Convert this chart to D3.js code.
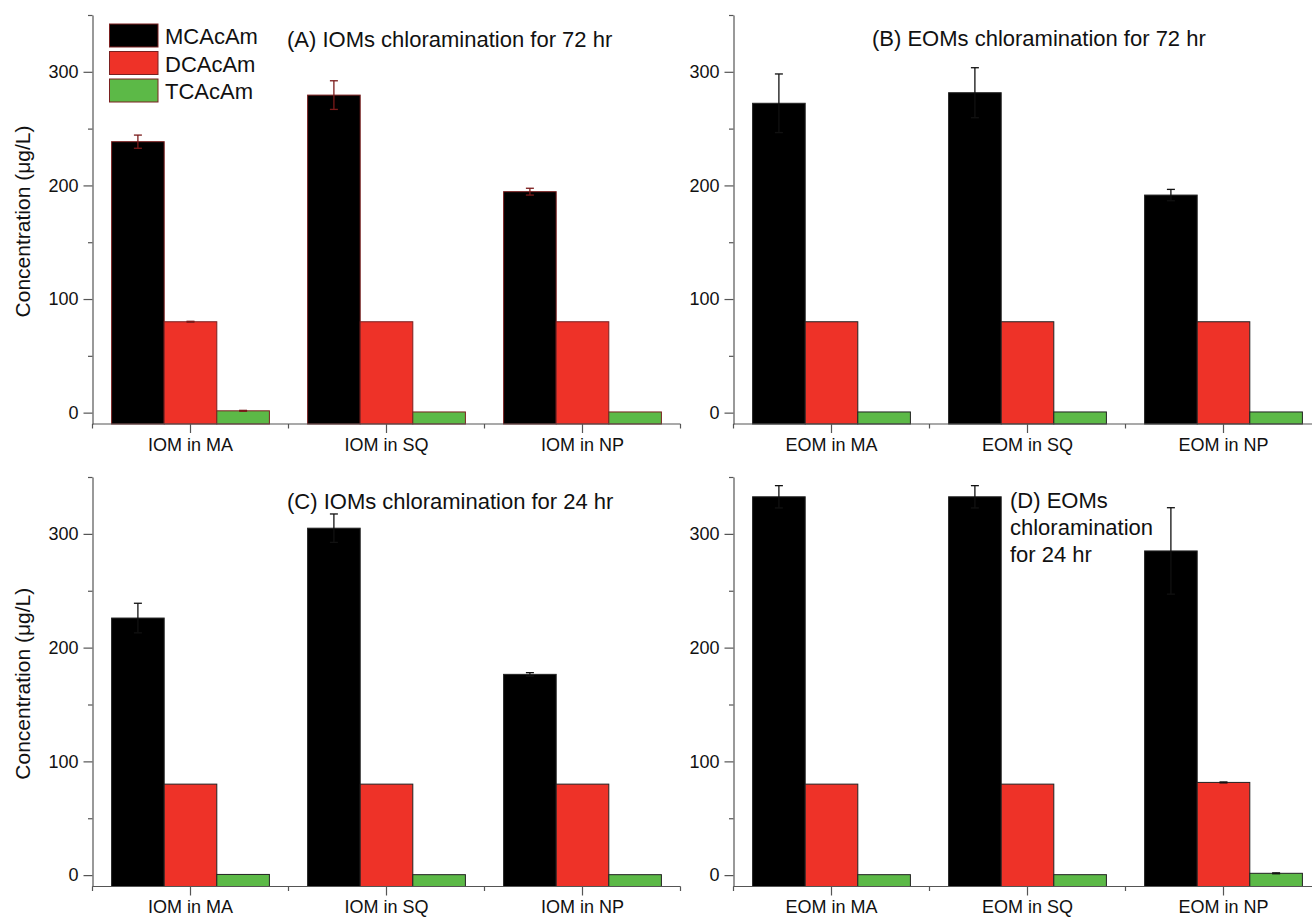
<!DOCTYPE html>
<html lang="en">
<head>
<meta charset="UTF-8">
<script src="https://cdn.jsdelivr.net/npm/d3@7"></script>
<style>
  body { margin: 0; background: #fff; }
  text { font-family: "Liberation Sans", Arial, sans-serif; fill: #111; }
  .tick text { font-size: 18px; }
  .axis path, .axis line { stroke: #555; stroke-width: 1.2; }
</style>
</head>
<body>
<div id="chart"></div>
<script>
// categories and series
var iomCats = ["IOM in MA", "IOM in SQ", "IOM in NP"];
var eomCats = ["EOM in MA", "EOM in SQ", "EOM in NP"];
var series = ["MCAcAm", "DCAcAm", "TCAcAm"];
var colors = ["#000000", "#ee3228", "#5cb947"];
var yMajor = [0, 100, 200, 300];
var yMinor = [50, 150, 250, 350];

// (A) IOMs 72 hr
var aMC = [238.5, 279.5, 194.5], aMCerr = [5.8, 12.6, 3];
var aDC = [80, 80, 80],          aDCerr = [0.4, 0, 0];
var aTC = [1.6, 0.6, 0.6],       aTCerr = [0.4, 0, 0];
// (B) EOMs 72 hr
var bMC = [272.3, 281.6, 191.5], bMCerr = [25.8, 22, 5];
var bDC = [80, 80, 80],          bDCerr = [0, 0, 0];
var bTC = [0.6, 0.6, 0.6],       bTCerr = [0, 0, 0];
// (C) IOMs 24 hr
var cMC = [226, 305, 176.5],     cMCerr = [13, 12.5, 1.5];
var cDC = [80, 80, 80],          cDCerr = [0, 0, 0];
var cTC = [0.6, 0.4, 0.4],       cTCerr = [0, 0, 0];
// (D) EOMs 24 hr
var dMC = [332.6, 332.6, 285],   dMCerr = [9.8, 9.8, 38];
var dDC = [80, 80, 81.5],        dDCerr = [0, 0, 0.4];
var dTC = [0.4, 0.4, 1.6],       dTCerr = [0, 0, 0.4];

var W = 1312, H = 918;
var svg = d3.select("#chart").append("svg").attr("width", W).attr("height", H);

var panels = [
  { cats: iomCats, vals: [aMC, aDC, aTC], errs: [aMCerr, aDCerr, aTCerr], x0: 92.5, y0: 424, y1: 15,
    stroke: "#7a2020", errColor: "#7a1a1a", title: ["(A) IOMs chloramination for 72 hr"], tx: 287, ty: 47, legend: true },
  { cats: eomCats, vals: [bMC, bDC, bTC], errs: [bMCerr, bDCerr, bTCerr], x0: 733.5, y0: 424, y1: 15,
    stroke: "#222", errColor: "#111", title: ["(B) EOMs chloramination for 72 hr"], tx: 872, ty: 46 },
  { cats: iomCats, vals: [cMC, cDC, cTC], errs: [cMCerr, cDCerr, cTCerr], x0: 92.5, y0: 886.5, y1: 477,
    stroke: "#222", errColor: "#111", title: ["(C) IOMs chloramination for 24 hr"], tx: 287, ty: 509 },
  { cats: eomCats, vals: [dMC, dDC, dTC], errs: [dMCerr, dDCerr, dTCerr], x0: 733.5, y0: 886.5, y1: 477,
    stroke: "#222", errColor: "#111", title: ["(D) EOMs", "chloramination", "for 24 hr"], tx: 1010, ty: 508 }
];

panels.forEach(function (p, pi) {
  var g = svg.append("g");
  var y = d3.scaleLinear().domain([-10, 350]).range([p.y0, p.y1]);
  var x = d3.scaleBand().domain(p.cats).range([p.x0, p.x0 + 588]);
  var xs = d3.scaleBand().domain(series).range([0, x.bandwidth()]).paddingOuter(0.363);

  // bars
  series.forEach(function (s, si) {
    var grp = g.append("g");
    grp.selectAll("rect").data(p.cats).enter().append("rect")
      .attr("x", function (c) { return x(c) + xs(s); })
      .attr("width", xs.bandwidth())
      .attr("y", function (c, i) { return y(p.vals[si][i]); })
      .attr("height", function (c, i) { return y(-10) - y(p.vals[si][i]); })
      .attr("fill", colors[si])
      .attr("stroke", p.stroke)
      .attr("stroke-width", 1);

    // error bars
    p.cats.forEach(function (c, i) {
      var e = p.errs[si][i];
      if (!e) return;
      var cx = x(c) + xs(s) + xs.bandwidth() / 2;
      var v = p.vals[si][i];
      var eg = grp.append("g").attr("stroke", p.errColor).attr("stroke-width", 1.3);
      eg.append("line").attr("x1", cx).attr("x2", cx).attr("y1", y(v - e)).attr("y2", y(v + e));
      eg.append("line").attr("x1", cx - 4).attr("x2", cx + 4).attr("y1", y(v + e)).attr("y2", y(v + e));
      eg.append("line").attr("x1", cx - 4).attr("x2", cx + 4).attr("y1", y(v - e)).attr("y2", y(v - e));
    });
  });

  // y axis
  g.append("g").attr("class", "axis").attr("transform", "translate(" + p.x0 + ",0)")
    .call(d3.axisLeft(y).tickValues(yMajor).tickSize(9).tickPadding(5).tickSizeOuter(0))
    .call(function (a) { a.select(".domain").remove(); });
  g.append("g").attr("class", "axis").attr("transform", "translate(" + p.x0 + ",0)")
    .call(d3.axisLeft(y).tickValues(yMinor).tickSize(4.5).tickFormat("").tickSizeOuter(0));

  // x axis
  g.append("g").attr("class", "axis").attr("transform", "translate(0," + p.y0 + ")")
    .call(d3.axisBottom(x).tickSize(9).tickPadding(5).tickSizeOuter(0))
    .call(function (a) { a.select(".domain").remove(); });
  var edges = p.cats.map(function (c) { return x(c); }).concat([x.range()[1]]);
  g.append("g").attr("class", "axis").selectAll("line").data(edges).enter().append("line")
    .attr("x1", function (d) { return d; }).attr("x2", function (d) { return d; })
    .attr("y1", p.y0).attr("y2", p.y0 + 4.5);
  g.append("line").attr("class", "axis")
    .attr("x1", p.x0).attr("x2", x.range()[1]).attr("y1", p.y0).attr("y2", p.y0)
    .attr("stroke", "#555").attr("stroke-width", 1.2);

  // title
  var t = g.append("text").attr("x", p.tx).attr("y", p.ty).style("font-size", "22px");
  p.title.forEach(function (line, li) {
    t.append("tspan").attr("x", p.tx).attr("dy", li === 0 ? 0 : 27).text(line);
  });

  // y label on left panels
  if (pi % 2 === 0) {
    var cy = (p.y0 + p.y1) / 2 + 2;
    g.append("text")
      .attr("transform", "translate(30," + cy + ") rotate(-90)")
      .attr("text-anchor", "middle")
      .style("font-size", "21px")
      .text("Concentration (\u03bcg/L)");
  }

  // legend
  if (p.legend) {
    var lg = g.append("g");
    series.forEach(function (s, si) {
      var ly = 24 + si * 27.5;
      lg.append("rect").attr("x", 109.5).attr("y", ly).attr("width", 48.5).attr("height", 23)
        .attr("fill", colors[si]).attr("stroke", "#7a2020").attr("stroke-width", 1);
      lg.append("text").attr("x", 165).attr("y", ly + 20).style("font-size", "22px").text(s);
    });
  }
});
</script>
</body>
</html>
